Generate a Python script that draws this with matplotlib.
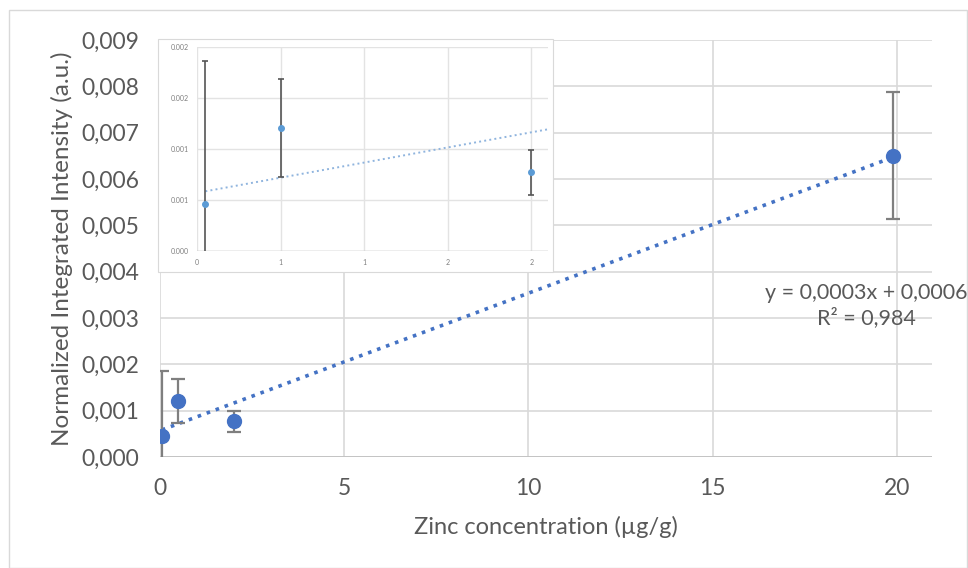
import numpy as np
import matplotlib
matplotlib.use('Agg')
import matplotlib.pyplot as plt
from matplotlib.patches import Rectangle

# Donnees
zinc = np.array([0.05, 0.5, 2.0, 19.9])
intensite = np.array([0.00046, 0.00121, 0.00077, 0.0065])
erreur = np.array([0.0014, 0.00048, 0.00022, 0.00137])

xticks = [0, 5, 10, 15, 20]
yticks = [0, 0.001, 0.002, 0.003, 0.004, 0.005, 0.006, 0.007, 0.008, 0.009]
ytick_labels = ['0,000', '0,001', '0,002', '0,003', '0,004',
                '0,005', '0,006', '0,007', '0,008', '0,009']

# petit graphique en encart (zoom sur les 3 premiers points)
encart_xticks = [0, 0.5, 1, 1.5, 2]
encart_xlabels = ['0', '1', '1', '2', '2']
encart_yticks = [0, 0.0005, 0.001, 0.0015, 0.002]
encart_ylabels = ['0.000', '0.001', '0.001', '0.002', '0.002']

equation = 'y = 0,0003x + 0,0006\nR² = 0,984'

plt.rcParams['font.family'] = ['Lato', 'DejaVu Sans']
gris = '#595959'
grille = '#d9d9d9'
bleu = '#4472c4'

fig = plt.figure(figsize=(9.68, 5.68), dpi=100)
fig.patches.append(Rectangle((9/968, 0), 958/968, 558/568, transform=fig.transFigure,
                             fill=False, edgecolor=grille, lw=1))

ax = fig.add_axes([160/968, (568-457)/568, (932-160)/968, (457-40)/568])
ax.set_xlim(0, 20.95)
ax.set_ylim(0, 0.009)
ax.set_xticks(xticks)
ax.set_yticks(yticks)
ax.set_yticklabels(ytick_labels)
ax.grid(True, color=grille, lw=1.2)
ax.set_axisbelow(True)
for s in ax.spines.values():
    s.set_visible(False)
ax.axhline(0, color='#bfbfbf', lw=1.2, zorder=1)
ax.tick_params(length=0, labelsize=16.5, labelcolor=gris)
ax.tick_params(axis='y', pad=15)
ax.tick_params(axis='x', pad=15)
ax.set_ylabel('Normalized Integrated Intensity (a.u.)', fontsize=17.5, color=gris, labelpad=6)
ax.set_xlabel('Zinc concentration (µg/g)', fontsize=17, color=gris, labelpad=12)

# ajustement lineaire
p = np.polyfit(zinc, intensite, 1)
xx = np.array([zinc[0], zinc[-1]])
ax.plot(xx, np.polyval(p, xx), ':', color=bleu, lw=2.6, zorder=3)
ax.errorbar(zinc, intensite, yerr=erreur, fmt='o', color=bleu, ms=10,
            ecolor='#7f7f7f', elinewidth=1.6, capsize=5, capthick=1.6, zorder=4)
ax.text(866/968, (568-306)/568, equation, transform=fig.transFigure, ha='center',
        va='center', fontsize=15.5, color=gris, linespacing=1.25)

# encart
fig.patches.append(Rectangle((158/968, (568-272)/568), (553-158)/968, (272-39)/568,
                             transform=fig.transFigure, facecolor='white',
                             edgecolor=grille, lw=0.8, zorder=2))
axi = fig.add_axes([197/968, (568-251)/568, (548-197)/968, (251-47)/568], zorder=3)
axi.set_xlim(0, 2.1)
axi.set_ylim(0, 0.002)
axi.set_xticks(encart_xticks)
axi.set_xticklabels(encart_xlabels)
axi.set_yticks(encart_yticks)
axi.set_yticklabels(encart_ylabels)
axi.grid(True, color='#e3e3e3', lw=1)
axi.set_axisbelow(True)
for s in axi.spines.values():
    s.set_visible(False)
axi.axhline(0, color='#bfbfbf', lw=1, zorder=1)
axi.tick_params(length=0, labelsize=5, labelcolor='#7f7f7f', pad=6)
xi = np.array([zinc[0], 2.1])
axi.plot(xi, np.polyval(p, xi), ':', color='#8fb4de', lw=1.4, zorder=3)
axi.errorbar(zinc[:3], intensite[:3], yerr=erreur[:3], fmt='o', color='#5b9bd5', ms=4,
             ecolor='#555555', elinewidth=1.2, capsize=2.5, capthick=1.2, zorder=4)

fig.savefig('out.png', dpi=100)
